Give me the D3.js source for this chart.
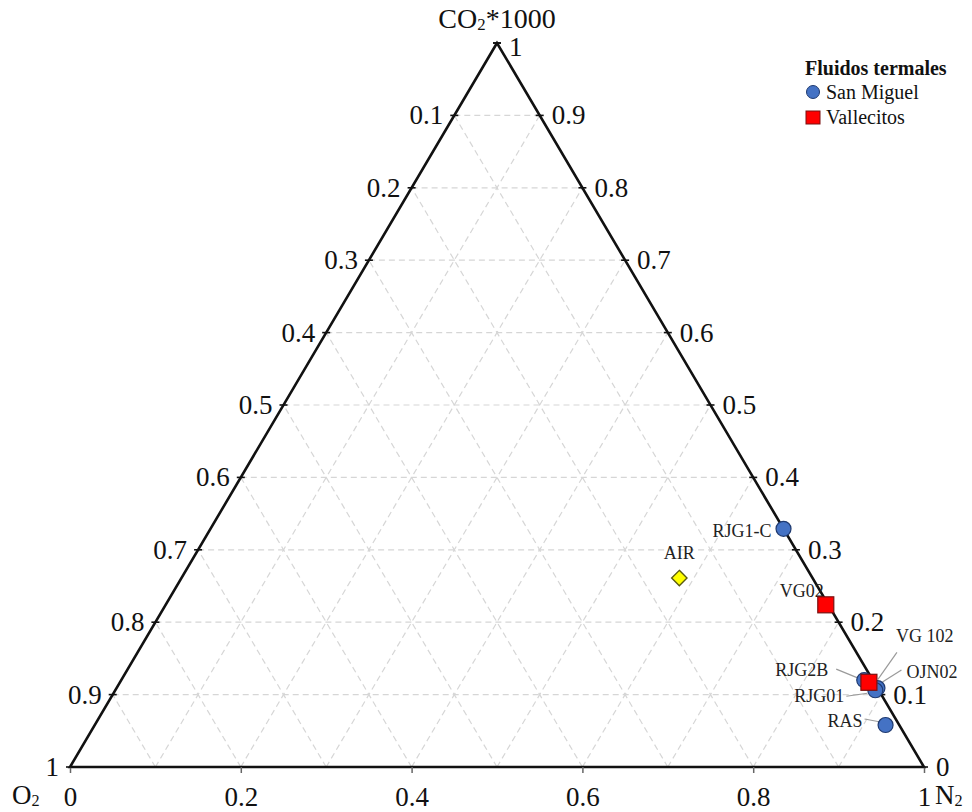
<!DOCTYPE html>
<html>
<head>
<meta charset="utf-8">
<script src="https://cdn.jsdelivr.net/npm/d3@7/dist/d3.min.js"></script>
<style>
  html, body { margin: 0; padding: 0; background: #fff; }
  svg { display: block; font-family: "Liberation Serif", "DejaVu Serif", serif; }
</style>
</head>
<body>
<svg id="chart" width="972" height="812"></svg>
<script>
// Gas composition of thermal fluids (fractions of CO2*1000, N2, O2)
const samples = ["RJG1-C", "VG02", "VG 102", "RJG2B", "OJN02", "RJG01", "RAS", "AIR"];
const groups  = ["San Miguel", "Vallecitos", "Vallecitos", "San Miguel", "San Miguel", "San Miguel", "San Miguel", "Aire"];
const co2     = [0.329, 0.224, 0.117, 0.120, 0.109, 0.106, 0.058, 0.261];
const n2      = [0.671, 0.773, 0.877, 0.870, 0.891, 0.890, 0.926, 0.583];
const o2      = [0.000, 0.003, 0.006, 0.010, 0.000, 0.004, 0.016, 0.156];

const gridSteps   = [0.1, 0.2, 0.3, 0.4, 0.5, 0.6, 0.7, 0.8, 0.9];
const sideTicks   = [0.1, 0.2, 0.3, 0.4, 0.5, 0.6, 0.7, 0.8, 0.9];
const bottomTicks = [0, 0.2, 0.4, 0.6, 0.8, 1];
const legendItems = ["San Miguel", "Vallecitos"];

// label placement: text offset from the marker, and leader segment (start, end) offsets
const labelLayout = {
  "RJG1-C": { dx: -12, dy: 8,   anchor: "end",    leader: null },
  "VG02":   { dx: -2,  dy: -8,  anchor: "end",    leader: null },
  "VG 102": { dx: 27,  dy: -40, anchor: "start",  leader: [[9, -3], [28, -30]] },
  "RJG2B":  { dx: -36, dy: -4,  anchor: "end",    leader: [[-6, -2], [-28, -11]] },
  "OJN02":  { dx: 29,  dy: -10, anchor: "start",  leader: [[5, -6], [24, -18]] },
  "RJG01":  { dx: -31, dy: 12,  anchor: "end",    leader: [[-8, 3], [-29, 6]] },
  "RAS":    { dx: -23, dy: 2,   anchor: "end",    leader: [[-5, -3], [-21, -6]] },
  "AIR":    { dx: 0,   dy: -19, anchor: "middle", leader: null }
};

const colors = {
  "San Miguel": { fill: "#4472c4", stroke: "#1f3a70" },
  "Vallecitos": { fill: "#ff0000", stroke: "#7a1010" },
  "Aire":       { fill: "#ffff00", stroke: "#5a5a10" }
};

const svg = d3.select("#chart");

// horizontal position from N2 + CO2/2, vertical from CO2
const xs = d3.scaleLinear().domain([0, 1]).range([70, 924]);
const ys = d3.scaleLinear().domain([0, 1]).range([767, 43]);
const proj = (c, n) => [xs(n + c / 2), ys(c)];

const gGrid = svg.append("g")
  .attr("stroke", "#d6d6d6").attr("stroke-width", 1.2)
  .attr("stroke-dasharray", "6,4").attr("fill", "none");

gridSteps.forEach(k => {
  // constant CO2
  let a = proj(k, 0), b = proj(k, 1 - k);
  gGrid.append("line").attr("x1", a[0]).attr("y1", a[1]).attr("x2", b[0]).attr("y2", b[1]);
  // constant N2
  a = proj(0, k); b = proj(1 - k, k);
  gGrid.append("line").attr("x1", a[0]).attr("y1", a[1]).attr("x2", b[0]).attr("y2", b[1]);
  // constant O2
  a = proj(0, 1 - k); b = proj(1 - k, 0);
  gGrid.append("line").attr("x1", a[0]).attr("y1", a[1]).attr("x2", b[0]).attr("y2", b[1]);
});

// triangle outline
const A = proj(1, 0), L = proj(0, 0), R = proj(0, 1);
svg.append("path")
  .attr("d", `M${A[0]},${A[1]}L${L[0]},${L[1]}L${R[0]},${R[1]}Z`)
  .attr("fill", "none").attr("stroke", "#111").attr("stroke-width", 2.6)
  .attr("stroke-linejoin", "miter");

const tickFont = 27;

// bottom axis (N2)
const bottomAxis = d3.axisBottom(xs).tickValues(bottomTicks)
  .tickFormat(d => d === 0 ? "0" : d === 1 ? "1" : d3.format(".1f")(d))
  .tickSize(6).tickPadding(14);
const gb = svg.append("g").attr("transform", `translate(0,${ys(0)})`).call(bottomAxis);
gb.select(".domain").remove();
gb.selectAll(".tick line").attr("stroke", "#666").attr("stroke-width", 1.5);
gb.selectAll(".tick text").attr("font-family", "Liberation Serif").attr("font-size", tickFont).attr("fill", "#111");

// side ticks and labels
const gs = svg.append("g");
const sideVals = [0].concat(sideTicks).concat([1]);
sideVals.forEach(c => {
  const [lx, ly] = proj(c, 0);          // left edge
  const [rx, ry] = proj(c, 1 - c);      // right edge
  gs.append("line").attr("x1", lx - 4).attr("x2", lx + 4).attr("y1", ly).attr("y2", ly)
    .attr("stroke", "#111").attr("stroke-width", 1.6);
  gs.append("line").attr("x1", rx - 4).attr("x2", rx + 4).attr("y1", ry).attr("y2", ry)
    .attr("stroke", "#111").attr("stroke-width", 1.6);
  if (c < 1) {
    gs.append("text").attr("x", lx - 11).attr("y", ly + 9).attr("text-anchor", "end")
      .attr("font-size", tickFont).attr("fill", "#111")
      .text(c === 0 ? "1" : d3.format(".1f")(1 - c));
  }
  gs.append("text").attr("x", rx + 12).attr("y", ry + (c === 1 ? 13 : 9)).attr("text-anchor", "start")
    .attr("font-size", tickFont).attr("fill", "#111")
    .text(c === 0 ? "0" : c === 1 ? "1" : d3.format(".1f")(c));
});

// text with a small subscript "2"
function subText(x, y, size, base, rest, anchor) {
  const t = svg.append("text").attr("x", x).attr("y", y).attr("font-size", size)
    .attr("fill", "#111").attr("text-anchor", anchor || "start");
  t.append("tspan").text(base);
  t.append("tspan").attr("font-size", size * 0.6).attr("dy", size * 0.08).text("2");
  if (rest) t.append("tspan").attr("dy", -size * 0.08).text(rest);
  return t;
}

// vertex titles
subText(A[0], 28, 28, "CO", "*1000", "middle");
subText(12, 804, 27, "O", null);
subText(935, 804, 27, "N", null);

// leaders and labels
const pts = samples.map((s, i) => ({ name: s, group: groups[i], pos: proj(co2[i], n2[i]) }));
const gLab = svg.append("g");
pts.forEach(p => {
  const lay = labelLayout[p.name];
  if (lay.leader) {
    const [p1, p2] = lay.leader;
    gLab.append("line")
      .attr("x1", p.pos[0] + p1[0]).attr("y1", p.pos[1] + p1[1])
      .attr("x2", p.pos[0] + p2[0]).attr("y2", p.pos[1] + p2[1])
      .attr("stroke", "#9a9a9a").attr("stroke-width", 1.2);
  }
  gLab.append("text").attr("x", p.pos[0] + lay.dx).attr("y", p.pos[1] + lay.dy)
    .attr("text-anchor", lay.anchor).attr("font-size", 18).attr("fill", "#222").text(p.name);
});

// markers: circles first, then squares, then diamond
const order = { "San Miguel": 0, "Vallecitos": 1, "Aire": 2 };
const gm = svg.append("g");
pts.slice().sort((a, b) => order[a.group] - order[b.group]).forEach(p => {
  const c = colors[p.group];
  if (p.group === "San Miguel") {
    gm.append("circle").attr("cx", p.pos[0]).attr("cy", p.pos[1]).attr("r", 7.5)
      .attr("fill", c.fill).attr("stroke", c.stroke).attr("stroke-width", 1.2);
  } else if (p.group === "Vallecitos") {
    gm.append("rect").attr("x", p.pos[0] - 8).attr("y", p.pos[1] - 8).attr("width", 16).attr("height", 16)
      .attr("fill", c.fill).attr("stroke", c.stroke).attr("stroke-width", 1.2);
  } else {
    gm.append("path").attr("d", d3.symbol(d3.symbolDiamond2, 150)())
      .attr("transform", `translate(${p.pos[0]},${p.pos[1]})`)
      .attr("fill", c.fill).attr("stroke", c.stroke).attr("stroke-width", 1.4);
  }
});

// legend
const lg = svg.append("g").attr("transform", "translate(805,0)");
lg.append("text").attr("x", 0).attr("y", 75).attr("font-size", 20).attr("font-weight", "bold")
  .attr("fill", "#111").text("Fluidos termales");
legendItems.forEach((name, i) => {
  const y = 92 + i * 25;
  const c = colors[name];
  if (i === 0) {
    lg.append("circle").attr("cx", 8).attr("cy", y).attr("r", 6.5)
      .attr("fill", c.fill).attr("stroke", c.stroke).attr("stroke-width", 1);
  } else {
    lg.append("rect").attr("x", 1).attr("y", y - 6).attr("width", 14).attr("height", 13)
      .attr("fill", c.fill).attr("stroke", c.stroke).attr("stroke-width", 1);
  }
  lg.append("text").attr("x", 21).attr("y", y + 7).attr("font-size", 20).attr("fill", "#111").text(name);
});
</script>
</body>
</html>
